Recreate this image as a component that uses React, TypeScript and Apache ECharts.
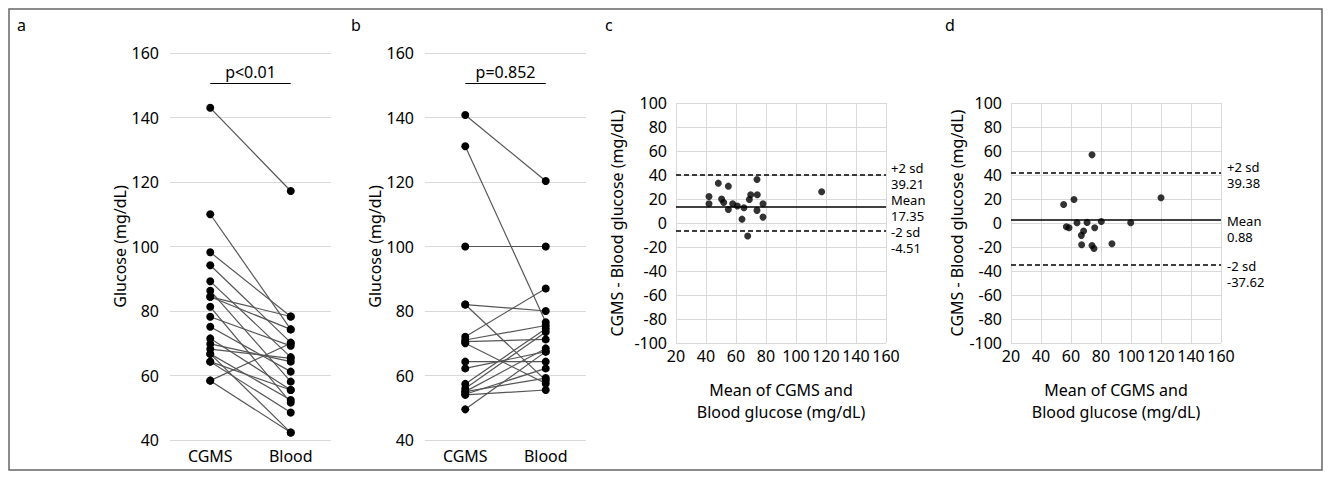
import React, { useEffect, useRef } from "react";
import * as echarts from "echarts";

// Panel a: paired CGMS vs blood glucose (mg/dL)
const groups = ["CGMS", "Blood"];
const aCgms = [143, 110, 98.2, 94.2, 89.2, 86.3, 84.4, 84.4, 81.3, 78.2, 75.1, 71.5, 69.8, 68.2, 66.7, 66.7, 64.3, 64.3, 58.4, 58.4];
const aBlood = [117.2, 74.3, 78.3, 70.2, 65.7, 58.1, 78.3, 74.3, 51.6, 69.2, 61.2, 55.5, 64.3, 65.3, 52.4, 42.3, 48.5, 55.5, 70, 42.3];
// Panel b
const bCgms = [140.8, 131.1, 100, 82, 82, 72, 71, 70.5, 70, 64.3, 62.2, 57.4, 56, 55, 54.2, 55, 54, 49.5];
const bBlood = [120.3, 76.5, 100, 80, 58.5, 87, 75.5, 71.2, 57.5, 64.3, 67.4, 74.5, 73.5, 68.4, 62.2, 59.2, 55.5, 67.4];
const pTexts = ["p<0.01", "p=0.852"];
const pLevel = 150.6;
const glucoseTicks = [40, 160, 20];

// Panel c: Bland-Altman (mean, difference)
const cMean = [42.0, 42.0, 48.2, 54.9, 50.4, 51.8, 54.9, 57.8, 60.9, 64.0, 65.3, 67.8, 68.9, 69.8, 74.0, 74.2, 74.0, 78.0, 78.0, 117.1];
const cDiff = [22.1, 16.0, 33.2, 30.7, 19.9, 17.1, 11.3, 16.0, 14.1, 3.2, 12.7, -10.9, 19.6, 23.5, 36.2, 23.5, 10.5, 16.0, 4.9, 26.0];
const cLines = [39.8, 13.6, -6.2];
const cTexts = ["+2 sd", "39.21", "Mean", "17.35", "-2 sd", "-4.51"];
// Panel d
const dMean = [55.1, 62.0, 56.9, 58.7, 64.0, 70.7, 66.9, 68.4, 67.1, 74.0, 74.0, 75.3, 75.8, 80.2, 87.3, 99.8, 120.0];
const dDiff = [15.4, 19.6, -3.1, -4.0, 0.2, 0.5, -10.3, -6.7, -18.1, 56.8, -18.7, -21.2, -4.0, 1.3, -17.3, 0.2, 21.0];
const dLines = [41.5, 2.8, -35.2];
const dTexts = ["+2 sd", "39.38", "Mean", "0.88", "-2 sd", "-37.62"];

const panelLetters = ["a", "b", "c", "d"];
const FONT = '"Noto Sans", sans-serif';
const GRID_COLOR = "#d9d9d9";

export default function App() {
  const ref = useRef<HTMLDivElement>(null);
  useEffect(() => {
    document.body.style.margin = "0";
    const chart = echarts.init(ref.current!, null, { renderer: "svg" });

    const pairSeries = (cg: number[], bl: number[], gi: number, pText: string) =>
      cg.map((v, i) => ({
        type: "line",
        xAxisIndex: gi,
        yAxisIndex: gi,
        data: [v, bl[i]],
        symbol: "circle",
        symbolSize: 8,
        itemStyle: { color: "#000" },
        lineStyle: { color: "#555", width: 1.2 },
        z: 3,
        markLine:
          i === 0
            ? {
                silent: true,
                symbol: "none",
                lineStyle: { color: "#000", width: 1.2, type: "solid" },
                label: { show: true, position: "middle", formatter: pText, fontSize: 16, fontFamily: FONT, color: "#000", distance: 3 },
                data: [[{ coord: ["CGMS", pLevel] }, { coord: ["Blood", pLevel] }]],
              }
            : undefined,
      }));

    const baSeries = (xs: number[], ys: number[], gi: number, lines: number[]) => ({
      type: "scatter",
      xAxisIndex: gi,
      yAxisIndex: gi,
      data: xs.map((x, i) => [x, ys[i]]),
      symbolSize: 7,
      itemStyle: { color: "#000" },
      z: 3,
      markLine: {
        silent: true,
        symbol: "none",
        label: { show: false },
        data: [
          { yAxis: lines[0], lineStyle: { color: "#000", width: 1.5, type: [5, 3] } },
          { yAxis: lines[1], lineStyle: { color: "#000", width: 1.5, type: "solid" } },
          { yAxis: lines[2], lineStyle: { color: "#000", width: 1.5, type: [5, 3] } },
        ],
      },
    });

    const catX = (gi: number) => ({
      type: "category",
      gridIndex: gi,
      data: groups,
      axisLine: { show: false },
      axisTick: { show: false },
      axisLabel: { fontSize: 16, fontFamily: FONT, color: "#000", margin: 8 },
    });
    const glucoseY = (gi: number, gap: number) => ({
      type: "value",
      gridIndex: gi,
      min: glucoseTicks[0],
      max: glucoseTicks[1],
      interval: glucoseTicks[2],
      name: "Glucose (mg/dL)",
      nameLocation: "middle",
      nameGap: gap,
      nameTextStyle: { fontSize: 16, fontFamily: FONT, color: "#000" },
      axisLine: { show: false },
      axisTick: { show: false },
      splitLine: { lineStyle: { color: GRID_COLOR, width: 1 } },
      axisLabel: { fontSize: 16, fontFamily: FONT, color: "#000", margin: 11 },
    });
    const meanX = (gi: number) => ({
      type: "value",
      gridIndex: gi,
      min: 20,
      max: 160,
      interval: 20,
      name: "Mean of CGMS and\nBlood glucose (mg/dL)",
      nameLocation: "middle",
      nameGap: 36,
      nameTextStyle: { fontSize: 16, fontFamily: FONT, color: "#000", lineHeight: 22 },
      axisLine: { show: false },
      axisTick: { show: false },
      splitLine: { show: true, lineStyle: { color: GRID_COLOR, width: 1 } },
      axisLabel: { fontSize: 16, fontFamily: FONT, color: "#000", margin: 5 },
    });
    const diffY = (gi: number, gap: number) => ({
      type: "value",
      gridIndex: gi,
      min: -100,
      max: 100,
      interval: 20,
      name: "CGMS - Blood glucose (mg/dL)",
      nameLocation: "middle",
      nameGap: gap,
      nameTextStyle: { fontSize: 16, fontFamily: FONT, color: "#000" },
      axisLine: { show: false },
      axisTick: { show: false },
      splitLine: { show: true, lineStyle: { color: GRID_COLOR, width: 1 } },
      axisLabel: { fontSize: 16, fontFamily: FONT, color: "#000", margin: 9 },
    });

    const txt = (text: string, x: number, y: number, size = 16) => ({
      type: "text",
      x,
      y,
      style: { text, fill: "#000", font: `${size}px ${FONT}`, verticalAlign: "middle", align: "left" },
    });

    const letterX = [17, 351, 605, 945];
    const cY = [168, 184, 200, 216, 232, 248];
    const dY = [167, 183, 221, 237, 266, 282];

    chart.setOption({
      animation: false,
      grid: [
        { left: 170, top: 53, width: 161, height: 387 },
        { left: 425, top: 53, width: 161, height: 387 },
        { left: 676, top: 103, width: 210, height: 240 },
        { left: 1011, top: 103, width: 210, height: 240 },
      ],
      xAxis: [catX(0), catX(1), meanX(2), meanX(3)],
      yAxis: [glucoseY(0, 40), glucoseY(1, 40), diffY(2, 51), diffY(3, 46)],
      series: [
        ...pairSeries(aCgms, aBlood, 0, pTexts[0]),
        ...pairSeries(bCgms, bBlood, 1, pTexts[1]),
        baSeries(cMean, cDiff, 2, cLines),
        baSeries(dMean, dDiff, 3, dLines),
      ],
      graphic: [
        {
          type: "rect",
          shape: { x: 9, y: 9, width: 1313, height: 461 },
          style: { fill: "none", stroke: "#666", lineWidth: 1.5 },
          silent: true,
        },
        ...panelLetters.map((l, i) => txt(l, letterX[i], 25)),
        ...cTexts.map((t, i) => txt(t, 891, cY[i], 13)),
        ...dTexts.map((t, i) => txt(t, 1227, dY[i], 13)),
      ],
    } as any);

    return () => chart.dispose();
  }, []);
  return <div ref={ref} style={{ width: 1331, height: 480 }} />;
}
